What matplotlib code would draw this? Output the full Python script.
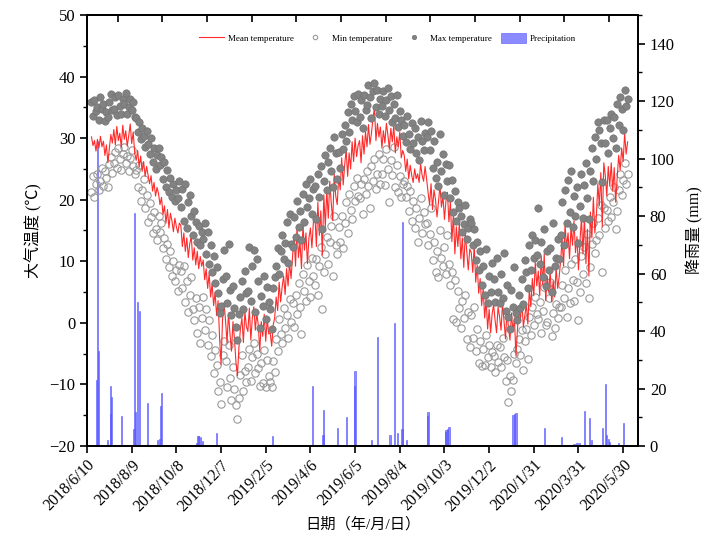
import matplotlib

matplotlib.use("Agg")

import matplotlib.dates as mdates
import matplotlib.pyplot as plt
import pandas as pd
from matplotlib.ticker import MultipleLocator

plt.rcParams["font.family"] = ["Liberation Serif", "Noto Sans CJK SC"]

# readings every second day from 2018-06-16, one row = 30 days
start_date = "2018-06-16"
mean_temp = [
    30.2, 28.8, 29.6, 27.9, 29.8, 28.4, 30.3, 28.6, 29.5, 27.2, 28.9, 26.0, 28.4, 30.6, 29.2,
    31.4, 28.9, 31.9, 29.6, 30.8, 28.5, 32.1, 29.8, 31.2, 28.7, 30.4, 32.3, 29.1, 31.0, 27.6,
    26.4, 28.0, 25.3, 27.1, 24.6, 26.2, 23.8, 25.4, 24.0, 22.6, 23.9, 21.4, 22.8, 20.6, 22.0,
    21.0, 19.2, 20.4, 17.6, 19.0, 16.2, 18.4, 15.4, 17.8, 16.6, 14.8, 17.0, 15.6, 14.6, 16.2,
    15.8, 12.4, 14.6, 11.6, 13.8, 10.6, 12.9, 14.0, 10.2, 12.2, 9.4, 11.6, 8.8, 10.8, 9.2,
    10.2, 7.0, 8.8, 5.6, 8.0, 4.2, 6.4, 2.8, 5.0, 1.2, 3.6, -2.4, -6.8, 0.6, 3.2,
    0.4, -3.2, 1.6, -1.8, -4.6, 0.2, -2.6, -6.4, -8.6, -4.0, -1.0, 0.8, -3.2, 1.8, -0.6,
    -1.4, 2.4, -2.8, 0.8, 2.6, -1.2, 1.6, -0.4, -4.6, 0.2, -2.2, 1.4, -3.0, 0.6, -1.8,
    -1.6, -3.8, -0.4, 0.8, 4.2, 2.0, 6.6, 3.4, 5.8, 7.6, 4.6, 8.8, 6.0, 9.8, 7.2,
    10.8, 14.2, 9.2, 15.6, 10.6, 13.2, 8.8, 16.0, 11.8, 14.6, 9.6, 13.8, 15.4, 12.2, 16.4,
    17.6, 12.4, 19.6, 14.2, 18.2, 11.0, 20.8, 15.6, 21.6, 17.0, 23.0, 19.4, 16.6, 24.2, 20.6,
    19.2, 23.8, 21.6, 26.8, 22.4, 25.6, 28.2, 23.8, 27.6, 25.0, 29.4, 26.2, 30.0, 27.0, 28.8,
    29.6, 26.0, 30.4, 27.4, 31.0, 28.6, 32.2, 29.0, 30.8, 33.2, 34.9, 29.6, 32.4, 30.2, 31.8,
    28.4, 31.2, 29.2, 32.4, 30.6, 28.2, 31.6, 29.4, 32.0, 27.6, 30.2, 28.6, 31.0, 26.8, 28.0,
    27.2, 24.6, 26.6, 23.4, 25.6, 24.0, 22.8, 25.0, 23.4, 24.2, 22.8, 25.8, 24.0, 23.0, 25.4,
    23.4, 21.2, 19.2, 22.6, 18.4, 21.6, 20.0, 17.2, 19.6, 22.4, 18.8, 20.6, 16.8, 19.8, 21.2,
    16.4, 19.6, 13.2, 17.6, 11.2, 15.6, 12.4, 16.2, 10.4, 13.8, 9.0, 14.6, 11.6, 8.6, 12.0,
    11.4, 8.2, 12.6, 6.6, 9.4, 4.8, 7.2, 2.8, 5.6, 0.8, 3.8, -1.0, 2.2, -1.6, 1.4,
    3.0, 0.4, -1.6, 2.6, 1.0, -1.2, 3.2, 0.2, -2.6, 2.0, -0.8, -2.8, 1.6, -1.4, 0.8,
    -5.4, -1.2, 2.6, 0.4, 3.4, -0.6, 1.2, 3.0, -0.2, 5.4, 2.6, 7.2, 4.4, 9.8, 6.0,
    8.4, 4.4, 10.8, 6.2, 11.2, 3.6, 7.6, 5.0, 8.4, 3.4, 6.8, 4.2, 9.0, 5.6, 7.4,
    10.0, 13.6, 9.2, 16.0, 12.2, 14.6, 10.4, 15.6, 12.6, 16.6, 11.4, 14.0, 8.6, 13.2, 17.0,
    11.2, 17.4, 9.6, 15.2, 7.6, 18.0, 13.8, 20.4, 14.6, 17.2, 22.6, 19.0, 24.4, 15.6, 26.0,
    24.0, 20.6, 25.4, 22.2, 26.0, 21.4, 25.2, 19.6, 23.6, 27.2, 24.8, 28.4, 26.2, 30.8, 27.4,
    29.4,
]
min_temp = [
    21.2, 23.8, 20.4, 22.6, 24.2, 21.5, 23.0, 25.1, 22.2, 24.6, 23.5, 22.0, 25.8, 27.0, 24.4,
    26.0, 27.8, 25.2, 28.4, 26.6, 24.8, 27.4, 28.6, 25.9, 27.1, 24.6, 26.8, 28.0, 25.4, 24.2,
    24.8, 22.0, 25.6, 19.8, 21.6, 23.4, 18.6, 20.8, 16.4, 19.4, 17.2, 14.6, 18.0, 15.2, 13.4,
    17.4, 14.8, 16.2, 12.2, 13.8, 10.4, 12.8, 9.0, 11.6, 7.6, 10.0, 6.8, 8.6, 5.2, 9.4,
    8.4, 5.6, 9.2, 3.4, 6.8, 1.8, 4.6, 7.4, 2.2, 0.4, 4.0, -1.6, 2.6, -3.2, 0.8,
    4.2, -1.2, 2.2, -3.6, 0.4, -5.4, -2.0, -8.2, -4.4, -6.8, -11.0, -9.6, -13.2, -5.2, -3.0,
    -6.2, -10.4, -3.6, -9.0, -12.6, -7.2, -10.8, -13.4, -15.6, -12.2, -8.4, -5.2, -11.0, -7.8, -9.6,
    -7.2, -4.2, -9.4, -5.6, -3.2, -8.2, -5.0, -7.4, -10.2, -6.6, -9.8, -4.4, -10.4, -6.0, -8.6,
    -9.6, -10.4, -6.2, -8.0, -2.6, -4.6, 0.6, -1.8, -3.2, 2.4, -0.8, 1.2, -2.4, 3.8, 0.2,
    3.2, -0.6, 4.6, 1.4, 6.4, 2.6, -1.8, 8.0, 5.2, 3.6, 9.4, 6.8, 4.2, 10.6, 7.6,
    6.2, 10.4, 4.6, 9.2, 12.4, 2.2, 8.2, 11.2, 14.0, 9.6, 13.2, 15.8, 7.6, 17.4, 12.6,
    11.2, 15.6, 13.2, 17.4, 12.2, 16.2, 19.6, 14.6, 21.0, 18.4, 16.8, 22.2, 19.8, 23.6, 20.6,
    20.2, 22.6, 17.6, 23.4, 21.0, 24.6, 22.2, 18.6, 25.4, 23.0, 26.6, 21.8, 24.2, 27.4, 22.6,
    24.2, 26.6, 22.4, 28.2, 25.0, 19.6, 26.4, 24.0, 28.6, 22.0, 25.6, 21.2, 23.8, 20.4, 22.6,
    23.0, 20.4, 22.2, 18.2, 21.4, 16.6, 19.8, 15.4, 18.6, 13.2, 17.0, 20.2, 14.6, 18.0, 16.0,
    16.2, 12.6, 14.4, 18.6, 10.2, 13.2, 8.2, 11.6, 7.4, 15.0, 10.6, 9.2, 12.4, 8.0, 14.2,
    9.6, 6.2, 8.2, 0.6, 7.0, 0.2, 5.2, 2.4, -0.8, 3.6, 0.8, 4.6, -2.6, 1.8, -4.0,
    1.2, -2.4, 2.6, -4.6, -1.0, -6.6, -3.0, -7.0, -4.2, -6.8, -2.0, -5.6, -3.6, -7.2, -4.8,
    -5.4, -8.0, -3.6, -6.4, -4.0, -7.2, -2.4, -5.6, -9.4, -6.0, -12.9, -8.6, -11.0, -9.2, -5.0,
    -6.6, -4.2, -2.6, -5.2, -1.2, -7.6, -3.0, -1.0, -5.8, 1.0, -2.0, 2.6, -0.4, 4.2, 1.4,
    0.6, 3.4, -1.6, 2.0, 5.8, -0.4, 0.2, 4.0, 6.6, -2.2, 1.6, -0.8, 3.0, 0.8, 2.6,
    2.6, 6.2, 4.0, 8.6, 1.0, 5.6, 3.2, 9.6, 7.0, 3.6, 10.4, 6.6, 0.4, 5.0, 10.8,
    8.0, 12.4, 6.4, 14.4, 4.0, 9.0, 12.8, 16.2, 11.4, 13.4, 17.0, 14.2, 19.2, 8.2, 18.6,
    15.4, 18.4, 16.6, 20.4, 17.2, 19.6, 22.0, 15.2, 18.2, 21.6, 24.2, 20.8, 23.2, 26.0, 22.6,
    24.2,
]
max_temp = [
    35.8, 33.6, 36.2, 34.4, 35.1, 33.0, 36.6, 34.8, 35.5, 32.8, 34.3, 33.5, 35.9, 37.2, 34.6,
    34.8, 36.6, 33.7, 37.0, 35.2, 34.0, 36.3, 35.6, 37.3, 33.9, 35.0, 36.4, 34.6, 35.8, 33.4,
    33.2, 31.0, 32.6, 29.8, 31.6, 30.4, 28.6, 31.2, 29.0, 27.4, 30.0, 26.2, 28.4, 25.0, 27.2,
    28.4, 25.6, 27.0, 23.4, 26.2, 22.0, 24.8, 21.2, 23.6, 20.4, 22.6, 19.8, 21.6, 20.2, 23.0,
    18.8, 21.8, 16.6, 22.6, 15.4, 19.6, 20.8, 17.4, 14.2, 18.2, 16.4, 13.2, 15.8, 12.6, 14.8,
    13.6, 16.2, 11.2, 14.8, 9.6, 12.6, 8.2, 10.8, 6.4, 9.0, 4.8, 1.6, 2.8, 7.2, 11.8,
    7.6, 3.2, 12.8, 5.4, 1.2, 6.0, 2.4, -0.6, -2.8, 1.4, 4.2, 6.8, 2.2, 8.4, 4.8,
    5.2, 12.4, 3.6, 9.2, 11.8, 1.8, 10.4, 6.8, -0.8, 4.4, 2.8, 7.6, 0.6, 5.8, 3.4,
    2.2, -1.0, 5.6, 7.4, 9.2, 12.2, 8.0, 11.6, 14.2, 10.4, 13.0, 16.4, 9.8, 17.6, 12.8,
    12.4, 17.2, 14.0, 19.8, 15.6, 18.2, 13.4, 21.0, 16.4, 22.6, 18.8, 20.2, 23.4, 17.6, 21.8,
    22.2, 16.8, 24.2, 20.4, 25.4, 15.2, 23.0, 27.2, 21.6, 26.2, 28.4, 24.6, 22.0, 30.2, 27.6,
    23.4, 27.8, 25.2, 30.6, 28.2, 32.2, 29.6, 34.2, 31.0, 35.6, 33.0, 36.8, 34.4, 32.6, 37.2,
    33.4, 36.2, 31.6, 37.0, 34.6, 35.4, 38.6, 36.6, 33.2, 37.6, 39.0, 35.0, 37.8, 34.0, 36.4,
    35.2, 37.6, 33.6, 36.2, 38.2, 34.6, 36.8, 32.6, 35.6, 33.2, 37.0, 31.8, 34.4, 33.0, 30.4,
    32.2, 29.4, 33.6, 30.6, 28.2, 32.4, 29.2, 31.6, 27.6, 30.2, 26.4, 32.8, 29.6, 28.0, 30.8,
    30.2, 32.6, 28.0, 31.2, 25.2, 29.6, 23.6, 26.2, 22.2, 30.6, 24.6, 27.4, 20.8, 25.8, 23.0,
    25.6, 20.2, 23.2, 18.0, 21.4, 16.6, 19.6, 18.6, 17.4, 14.8, 16.0, 19.2, 13.6, 15.4, 16.8,
    16.2, 12.6, 15.2, 10.2, 13.2, 8.6, 11.6, 6.2, 9.2, 4.6, 12.0, 3.2, 7.6, 5.0, 9.8,
    7.2, 3.4, 10.6, 5.0, 3.2, 8.0, 4.0, 11.4, 2.0, 6.2, 1.0, -1.0, 5.4, 2.6, 9.0,
    1.6, 0.4, 4.6, 2.4, 7.2, 3.0, 10.2, 8.2, 5.6, 12.6, 8.6, 14.2, 10.6, 13.4, 11.0,
    18.6, 9.6, 13.2, 7.4, 15.2, 6.0, 11.6, 8.6, 12.2, 5.0, 16.2, 9.2, 10.6, 13.6, 10.4,
    14.2, 19.6, 12.6, 21.6, 16.2, 23.2, 18.0, 24.6, 15.6, 20.6, 17.4, 22.0, 13.0, 19.0, 24.2,
    17.0, 22.4, 26.0, 20.2, 16.8, 24.6, 28.4, 23.0, 30.2, 26.6, 32.6, 31.4, 29.2, 22.8, 33.0,
    29.2, 33.0, 27.6, 31.6, 34.0, 30.0, 33.4, 28.4, 35.6, 32.2, 36.6, 34.8, 31.4, 37.8, 35.2,
    36.4,
]
rain_dates = [
    "2018-06-23", "2018-06-24", "2018-06-25", "2018-07-07", "2018-07-11", "2018-07-12",
    "2018-07-13", "2018-07-26", "2018-08-12", "2018-08-13", "2018-08-14", "2018-08-17",
    "2018-08-19", "2018-08-30", "2018-09-13", "2018-09-15", "2018-09-17", "2018-09-18",
    "2018-11-04", "2018-11-06", "2018-11-07", "2018-11-09", "2018-11-12", "2018-12-01",
    "2019-02-14", "2019-04-09", "2019-04-23", "2019-04-24", "2019-05-12", "2019-05-25",
    "2019-06-04", "2019-06-05", "2019-06-27", "2019-07-05", "2019-07-22", "2019-07-28",
    "2019-08-01", "2019-08-07", "2019-08-08", "2019-08-13", "2019-09-10", "2019-09-11",
    "2019-10-04", "2019-10-05", "2019-10-07", "2019-10-09", "2020-01-03", "2020-01-05",
    "2020-01-07", "2020-02-14", "2020-03-08", "2020-03-25", "2020-03-29", "2020-04-01",
    "2020-04-08", "2020-04-15", "2020-04-17", "2020-05-02", "2020-05-06", "2020-05-08",
    "2020-05-10", "2020-05-12", "2020-05-24", "2020-05-31",
]
rain_mm = [
    23, 106, 33, 2, 11, 21,
    17, 10.5, 6, 81, 12, 50,
    47, 15, 2, 2.5, 14, 18.5,
    1, 3.5, 3.5, 3.2, 1.8, 4.5,
    3.5, 21, 3.8, 12.5, 6.4, 10.2,
    21, 26, 2, 38, 4, 42.7,
    4.5, 6, 78, 2, 10.5, 11.8,
    5, 5.5, 6, 6.7, 10.8, 11.2,
    11.6, 6.2, 3.1, 0.8, 1, 1,
    12.2, 9.7, 2, 6.2, 21.7, 4,
    2.5, 1.5, 1, 8.1,
]
tick_start = "2018-06-10"
top_tick_start = "2018-07-21"


def main() -> None:
    days = mdates.date2num(pd.date_range(start_date, periods=len(mean_temp), freq="2D"))
    rain_x = mdates.date2num(pd.to_datetime(rain_dates))
    ticks = pd.date_range(tick_start, periods=13, freq="60D")
    top_ticks = mdates.date2num(pd.date_range(top_tick_start, periods=12, freq="60D"))

    fig = plt.figure(figsize=(7.03, 5.41), dpi=100)
    ax = fig.add_axes([0.1238, 0.1756, 0.7838, 0.7967])
    ax2 = ax.twinx()
    bars = ax2.bar(rain_x, rain_mm, width=1.6, color="#5a5aff", edgecolor="#5a5aff", alpha=0.7, linewidth=0.6, label="Precipitation")
    ax.set_zorder(ax2.get_zorder() + 1); ax.patch.set_visible(False)

    mins, = ax.plot(days, min_temp, "o", mfc="none", mec="#9a9a9a", ms=5.3, mew=0.8, label="Min temperature")
    mean, = ax.plot(days, mean_temp, color="#ff2b2b", lw=0.8, label="Mean temperature")
    maxs, = ax.plot(days, max_temp, "o", mfc="#828282", mec="#737373", ms=5.3, mew=0.5, label="Max temperature")

    ax.set_xlim(mdates.date2num(pd.Timestamp(tick_start)), mdates.date2num(pd.Timestamp("2020-06-19")))
    ax.set_ylim(-20, 50); ax2.set_ylim(0, 150)
    ax.set_xticks(mdates.date2num(ticks))
    ax.set_xticklabels([f"{d.year}/{d.month}/{d.day}" for d in ticks], rotation=45, ha="right", rotation_mode="anchor", fontsize=11.5)
    ax.set_yticks(range(-20, 51, 10)); ax.yaxis.set_minor_locator(MultipleLocator(5))
    ax2.set_yticks(range(0, 141, 20)); ax2.yaxis.set_minor_locator(MultipleLocator(10))
    ax.tick_params(axis="x", direction="out", length=5, width=1.2, pad=3)
    ax.tick_params(axis="y", which="major", direction="out", length=5, width=1.2, labelsize=12)
    ax.tick_params(axis="y", which="minor", direction="out", length=3, width=1.0)
    ax2.tick_params(axis="y", which="major", direction="out", length=5, width=1.2, labelsize=12)
    ax2.tick_params(axis="y", which="minor", direction="out", length=3, width=1.0)
    top = ax.secondary_xaxis("top"); top.set_xticks(top_ticks)
    top.tick_params(direction="in", length=5, width=1.2, labeltop=False)
    for axis in (ax, ax2):
        for spine in axis.spines.values():
            spine.set_linewidth(1.3)
    top.spines["top"].set_linewidth(1.3)

    ax.set_ylabel("大气温度 (℃)", fontsize=11.5, labelpad=5)
    ax2.set_ylabel("降雨量 (mm)", fontsize=11.5, labelpad=8)
    ax.set_xlabel("日期（年/月/日）", fontsize=11, labelpad=2)

    ax.legend([mean, mins, maxs, bars], ["Mean temperature", "Min temperature", "Max temperature", "Precipitation"],
              loc="center", bbox_to_anchor=(0.545, 0.947), ncol=4, frameon=False, fontsize=6.5,
              handlelength=2.8, handleheight=1.3, handletextpad=0.4, columnspacing=1.0, markerscale=0.6)
    fig.savefig("out.png", dpi=100)
    plt.close(fig)


if __name__ == "__main__":
    main()
